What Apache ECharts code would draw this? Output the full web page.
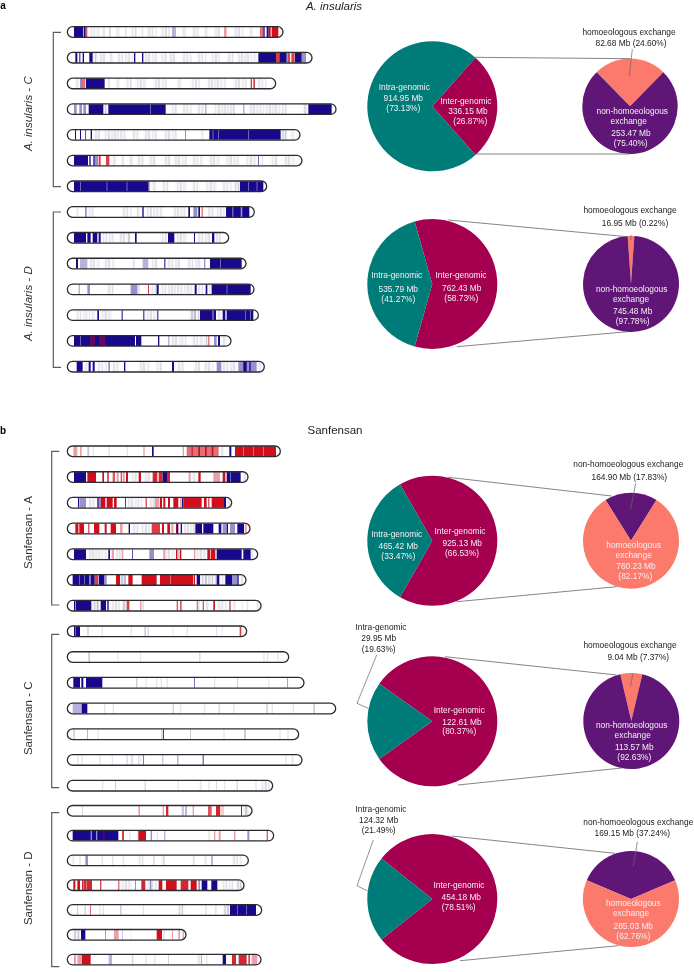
<!DOCTYPE html>
<html><head><meta charset="utf-8">
<style>html,body{margin:0;padding:0;background:#fff}#c{width:694px;height:972px}</style>
<script src="https://cdn.jsdelivr.net/npm/echarts@6/dist/echarts.min.js"></script></head>
<body><div id="c"></div>
<script>
// band levels: positive = non-homoeologous (blue), negative = homoeologous (red), 0 = gap
const B=1,M=.45,P=.13,R=-1,K=-.4,W=0;
const chromNames=['1','2','3','4','5','6','7'];
// chromosome ends, position units
const insC_ends=[849,936,827,1008,900,906,800];
const insD_ends=[763,686,738,762,775,693,793];
const sanA_ends=[841,744,695,750,773,738,783];
const sanC_ends=[740,866,912,1007,896,906,818];
const sanD_ends=[756,821,745,732,785,558,783];
// [start,end,level] per chromosome
const insC_bands=[
[[222,250,B],[252,256,B],[255,262,R*.7],[268,300,P],[305,315,P],[328,332,P*2],[345,360,P],[375,380,P],[390,410,P],[420,430,P],[440,470,P],[480,510,P],[516,528,M*.7],[545,560,P],[575,600,P],[610,625,P],[640,660,P],[672,680,K],[700,730,P],[745,760,P],[780,790,K*1.5],[790,794,B],[800,806,B],[806,812,R],[815,835,R]],
[[226,232,B],[238,241,B],[248,252,B],[268,278,B],[280,292,P*2],[295,320,P],[325,340,P],[350,400,P],[402,406,B],[426,430,B],[430,470,P],[480,500,P],[505,530,P],[545,575,P],[590,620,P],[630,660,P],[680,700,P],[710,770,P],[775,828,B],[828,838,R*.8],[838,860,B],[862,870,R*.8],[874,884,R*.8],[885,905,B],[905,918,M]],
[[225,238,P],[240,245,M],[244,256,R*.6],[258,314,B],[320,330,P],[345,360,P],[375,395,P],[405,440,P],[460,500,P],[530,545,P],[570,600,P],[620,680,P],[700,740,P],[752,756,R*.8],[760,765,R*.8],[770,800,P]],
[[222,230,M],[238,246,M],[250,258,M],[266,310,B],[310,322,P*2],[325,497,B],[450,452,W],[510,530,P],[545,575,P],[590,610,P],[616,619,M],[640,705,P],[730,733,M],[745,860,P],[908,922,P*1.5],[925,995,B]],
[[225,228,B],[240,243,B],[256,258,B],[272,276,B],[280,300,P],[310,380,P],[395,420,P],[430,470,P],[490,530,P],[555,558,M],[600,610,P],[628,842,B],[638,640,W],[655,657,W],[745,747,W],[842,860,P*1.5],[870,885,P]],
[[222,264,B],[268,272,B],[280,284,B],[284,294,M],[296,302,R*.8],[318,328,R*.8],[335,350,P],[365,372,P],[385,400,P],[410,430,P],[445,470,P],[490,510,P],[520,560,P],[575,610,P],[625,660,P],[675,720,P],[735,770,P],[774,777,M*1.4],[780,790,P],[810,835,P],[850,885,P]],
[[222,448,B],[240,242,W],[320,322,W],[380,382,W],[444,446,W],[455,470,P],[485,510,P],[525,560,P],[575,600,P],[615,650,P],[665,695,P],[700,718,P*1.5],[720,790,B],[745,747,W],[770,772,W]]
];
const insD_bands=[
[[225,235,P],[255,260,M],[262,280,P],[365,395,P],[410,418,P],[427,431,B],[435,490,P],[518,560,P],[565,570,B],[580,592,M],[595,600,B],[605,608,R*.8],[620,640,P],[645,675,P],[678,748,B],[697,700,W],[722,727,W]],
[[222,258,B],[262,272,B],[278,292,B],[296,302,B],[303,345,P],[355,375,P],[380,390,P*2],[405,410,B],[480,500,P],[504,523,B],[525,560,P],[582,585,B],[590,630,P],[636,643,B],[645,662,P]],
[[228,234,B],[240,262,M*.7],[265,300,P],[310,345,P],[395,405,P],[428,445,M*.7],[450,475,P],[493,496,B],[500,540,P],[560,605,P],[612,616,M],[630,725,B],[660,662,W]],
[[236,239,M],[262,270,M],[320,340,P],[392,412,M],[412,420,P],[444,447,R*.8],[450,470,P],[470,476,B],[480,580,P],[584,590,B],[590,615,P],[617,622,B],[622,634,P],[635,752,B],[680,682,W]],
[[225,285,P],[292,297,B],[300,335,P],[365,368,B],[430,433,B],[435,470,P],[472,475,B],[568,598,M*.6],[600,638,B],[640,648,B],[650,665,P],[668,676,B],[680,760,B],[735,737,W],[750,752,W]],
[[222,405,B],[270,285,K],[298,316,K],[240,242,W],[408,424,B],[474,478,B],[505,508,M],[512,560,P],[575,610,P],[612,622,M*.6],[625,628,R*.8],[642,650,M],[654,660,B],[665,680,P]],
[[230,248,B],[252,264,P],[266,272,B],[278,284,B],[290,320,P],[325,330,M],[335,360,P],[372,376,B],[415,450,P],[465,485,P],[516,522,B],[530,550,P],[580,600,P],[610,640,P],[650,664,M],[665,710,P],[715,770,M],[730,740,B],[748,752,B],[770,782,P]]
];
const sanA_bands=[
[[220,232,K],[240,245,K],[262,268,P*2],[278,282,P],[325,330,P],[380,384,P],[430,434,K],[456,461,B],[548,552,K],[560,656,K*1.5],[575,578,R],[595,600,R],[615,620,R],[635,640,R],[660,672,P],[688,694,B],[705,828,R],[730,732,W],[760,762,W],[790,792,W]],
[[222,258,B],[262,288,R],[307,312,R],[322,326,R],[338,345,R*.7],[350,356,K],[362,366,R*.7],[368,374,K],[378,384,R],[390,410,P],[416,423,R],[430,450,P],[458,472,R*.9],[476,488,R*.9],[488,503,B],[503,510,R*.9],[566,572,K],[575,590,P],[595,602,R],[640,660,K],[668,676,R],[680,722,B],[690,692,W],[730,738,P]],
[[234,237,B],[238,258,M],[262,288,P],[292,296,B],[296,302,M],[302,316,R],[320,338,R],[342,350,R],[375,378,R],[380,432,P],[437,440,R],[445,465,P],[465,478,K],[480,486,R],[490,496,R],[504,510,R],[520,535,R],[540,545,K],[546,550,B],[550,605,R],[612,620,R],[625,628,R],[635,672,R],[672,678,B],[680,690,P]],
[[226,234,R],[234,238,K],[238,252,R],[265,268,R],[282,298,R],[314,320,R],[332,348,R],[360,368,K],[386,390,B],[395,415,P],[420,450,P],[455,480,R*.8],[486,492,R],[502,510,R],[514,520,K],[528,533,R],[530,535,B],[542,546,B],[548,585,P],[586,606,B],[610,640,B],[656,664,B],[668,680,M],[680,684,B],[690,705,M],[712,732,B],[734,740,K]],
[[222,258,B],[262,320,P],[325,330,B],[335,342,K],[345,362,P],[365,370,K],[396,399,M*1.5],[448,462,M],[490,495,K],[490,525,P],[528,532,R],[532,540,P*2],[540,544,R],[582,586,K],[585,620,P],[622,630,R],[632,646,R],[650,725,B],[730,752,B],[754,760,P]],
[[218,268,B],[238,240,W],[252,254,W],[268,272,M],[272,284,B],[284,294,R*.8],[296,312,B],[312,320,M],[348,360,R],[360,378,M*.6],[385,398,R],[425,470,R],[474,478,W],[480,580,R],[510,512,W],[582,585,R],[590,600,B],[600,650,M*.5],[650,658,B],[660,675,P],[676,696,B],[696,712,M],[712,716,B],[722,730,P]],
[[222,232,P*2],[222,274,B],[225,228,W],[276,296,M*.6],[302,318,B],[322,326,B],[330,360,P],[365,378,M*.6],[380,388,R*.8],[420,424,K],[425,432,P],[530,534,R*.7],[540,545,R*.7],[590,594,M],[590,600,P],[608,612,R*.7],[618,625,P],[640,645,R],[650,680,P],[688,692,R*.8],[700,706,P],[725,728,P],[740,745,P],[770,776,P]]
];
const sanC_bands=[
[[222,240,B],[226,228,W],[262,266,P*2],[305,309,P],[392,396,P],[433,438,P*2],[443,446,M*.6],[517,520,P],[560,564,P],[648,652,P],[665,668,P],[719,724,R*.8]],
[[265,270,P*2],[352,355,P],[420,423,P],[598,601,P*2],[790,794,P],[800,805,P],[832,836,P]],
[[220,240,B],[244,250,B],[258,307,B],[408,412,P*2],[436,440,P],[468,472,P],[482,486,P],[500,504,P],[582,584,B*.8],[642,646,P],[712,714,K],[805,808,P],[862,864,R*.7]],
[[218,245,M*.7],[245,262,B],[312,316,P],[338,342,P],[518,522,M*.5],[540,544,P],[612,616,P],[656,659,M*.6],[700,704,P],[800,802,M],[815,819,P],[878,882,P],[940,945,P*2]],
[[221,223,M],[262,264,M],[292,296,P],[484,488,M*.6],[489,492,B*.8],[570,573,M*.6],[670,674,P],[732,738,M*.6],[838,842,P],[862,866,P]],
[[232,236,P],[244,248,P],[298,302,P],[335,339,P],[378,384,P],[392,400,P],[410,425,P],[430,432,B*.8],[486,490,P*2],[532,535,M],[608,611,B*.8],[856,860,P],[875,880,P]],
[[306,310,P],[346,348,M*.7],[434,437,M*.6],[532,536,P],[595,605,P],[625,629,P],[648,651,M*.4],[672,676,P],[710,713,M*.6],[766,770,P],[780,810,P]]
];
const sanD_bands=[
[[246,248,M*.6],[415,420,K],[488,492,K],[498,505,R*.9],[545,552,P*2],[556,560,M],[578,582,K],[624,635,R*.7],[648,660,R*.9],[660,672,K*.5],[723,726,B*.8],[730,745,P*2]],
[[218,355,B],[272,276,W],[288,292,W],[310,314,K],[366,372,R*.8],[388,392,P],[412,415,P],[415,438,R],[452,456,M],[470,474,P],[492,496,M*.7],[625,630,P],[642,646,K],[656,662,K],[703,706,K*1.5],[742,748,M],[800,804,R*.7]],
[[218,222,P],[238,242,P],[256,264,M],[305,309,P],[336,340,P],[368,372,P],[412,430,P],[460,464,K*.6],[484,494,P*1.5],[575,585,P],[610,620,P],[634,638,M],[695,725,P]],
[[220,226,R],[232,240,R],[246,276,R*.9],[250,252,W],[258,260,W],[300,304,R*.8],[355,358,R*.8],[360,395,P],[405,408,M],[424,436,R*.9],[440,470,P],[450,454,M],[476,487,R],[498,530,R],[542,565,R*.9],[572,590,R],[595,600,M],[605,622,B],[634,652,B],[664,700,P],[708,725,P*1.5]],
[[232,234,M*.7],[254,258,M*.5],[270,273,K*1.5],[298,302,P],[308,312,P],[361,364,M*.7],[428,432,P],[532,555,P*1.5],[615,620,P],[645,650,P],[668,690,P*1.5],[690,768,B],[712,714,W],[738,740,W]],
[[218,238,M*.5],[243,256,B],[315,317,R*.7],[342,356,K],[366,368,M*.7],[392,394,P],[470,486,R],[490,495,P],[516,519,K],[535,540,K],[548,552,K]],
[[222,228,K],[232,246,K],[246,272,R],[326,336,M*.7],[396,400,K*.6],[436,440,P],[462,466,P],[504,507,K*.6],[590,605,P],[604,606,M],[618,622,P],[668,678,B],[696,708,R*.9],[716,740,R*.9],[745,750,R*.8],[755,772,K]]
];
// pies: values, Mb
const insC_split=[336.15,914.95];
const insC_exch=[82.68,253.47];
const insD_split=[762.43,535.79];
const insD_exch=[16.95,745.48];
const sanA_split=[925.13,465.42];
const sanA_exch=[164.90,760.23];
const sanC_split=[122.61,29.95];
const sanC_exch=[9.04,113.57];
const sanD_split=[454.18,124.32];
const sanD_exch=[169.15,285.03];

// ---------- layout and style ----------
const FONT='"Liberation Sans",Arial,sans-serif';
const C={teal:'#007c78',crim:'#a5004f',purp:'#5f1676',salm:'#fb7a6c',ink:'#222',white:'#f4eef2'};
const groups=[
 {ends:insC_ends,bands:insC_bands,first:32,last:186.3},
 {ends:insD_ends,bands:insD_bands,first:212,last:366.7},
 {ends:sanA_ends,bands:sanA_bands,first:451.3,last:605.7},
 {ends:sanC_ends,bands:sanC_bands,first:631.3,last:785.7},
 {ends:sanD_ends,bands:sanD_bands,first:811.3,last:966}
];
const grids=[],xAxes=[],yAxes=[],series=[];
// fill texture for the palest bands: fine light stripes, as in the source's dense low-level tracks
const paleStripes=[.04,.15,.07,.19,.03,.12,.08,.17,.05,.13];
function levelFill(l,wpx){
  if(l===0) return 'rgba(255,255,255,.55)';
  if(l>0&&l<=.27&&wpx>3){
    const n=Math.max(2,Math.round(wpx/1.6)),colorStops=[];
    const k=l/.13;
    for(let i=0;i<n;i++){
      const a=Math.min(.4,paleStripes[i%paleStripes.length]*k);
      const c=`rgba(95,90,135,${a})`;
      colorStops.push({offset:i/n,color:c},{offset:(i+1)/n,color:c});
    }
    return new echarts.graphic.LinearGradient(0,0,1,0,colorStops);
  }
  if(l>0&&l<=.27) return `rgba(95,90,135,${l*1.2})`;
  return l>0?`rgba(24,8,140,${l})`:`rgba(208,14,28,${-l})`;
}
groups.forEach((g,i)=>{
  const s=(g.last-g.first)/6;
  grids.push({left:67.33,width:270,top:g.first-s/2,height:s*7});
  xAxes.push({type:'value',gridIndex:i,min:202,max:1012,show:false});
  yAxes.push({type:'category',gridIndex:i,inverse:true,data:chromNames,show:false});
  const rows=[];
  g.bands.forEach((list,c)=>list.forEach(b=>rows.push([b[0],c,b[1],b[2]])));
  series.push({type:'custom',xAxisIndex:i,yAxisIndex:i,silent:true,clip:false,z:2,
    encode:{x:[0,2],y:1},data:rows,
    renderItem(p,api){
      const a=api.coord([api.value(0),api.value(1)]),b=api.coord([api.value(2),api.value(1)]);
      const wpx=Math.max(b[0]-a[0],.7);
      return {type:'rect',shape:{x:a[0],y:a[1]-5,width:wpx,height:10},
        style:{fill:levelFill(api.value(3),wpx)}};
    }});
  series.push({type:'custom',xAxisIndex:i,yAxisIndex:i,silent:true,clip:false,z:3,
    encode:{x:[0,2],y:1},data:g.ends.map((e,c)=>[202,c,e]),
    renderItem(p,api){
      const a=api.coord([api.value(0),api.value(1)]),b=api.coord([api.value(2),api.value(1)]);
      return {type:'rect',shape:{x:a[0],y:a[1]-5.3,width:b[0]-a[0],height:10.6,r:5.3},
        style:{fill:'none',stroke:'#2a2a30',lineWidth:1.3}};
    }});
});
function pie(center,r,vals,cols,startAngle){
  series.push({type:'pie',center,radius:[0,r],startAngle,clockwise:true,silent:true,z:2,
    label:{show:false},labelLine:{show:false},
    itemStyle:{borderWidth:0},
    data:vals.map((v,i)=>({value:v,itemStyle:{color:cols[i]}}))});
}
const frac=(v)=>v[0]/(v[0]+v[1]);
const splitCols=[C.crim,C.teal], exCols=[C.salm,C.purp], exCols2=[C.purp,C.salm];
pie([432.3,106.3],65,insC_split,splitCols,frac(insC_split)*180);
pie([630,106.3],47.7,insC_exch,exCols,90+frac(insC_exch)*180);
pie([432.3,284],65,insD_split,splitCols,frac(insD_split)*180);
pie([631,284],48,insD_exch,exCols,90+frac(insD_exch)*180);
pie([432.3,540.7],65,sanA_split,splitCols,frac(sanA_split)*180);
pie([631,540.7],48,sanA_exch,exCols2,90+frac(sanA_exch)*180);
pie([432.3,721.3],65,sanC_split,splitCols,frac(sanC_split)*180);
pie([631.3,721],48,sanC_exch,exCols,90+frac(sanC_exch)*180);
pie([432.3,899],65,sanD_split,splitCols,frac(sanD_split)*180);
pie([631,899],48,sanD_exch,exCols2,90+frac(sanD_exch)*180);

const gfx=[];
function line(pts,color,w){gfx.push({type:'polyline',z:5,silent:true,shape:{points:pts},style:{stroke:color,lineWidth:w,fill:'none'}});}
// connectors between pies
[[[474,57.3],[630,58.7]],[[475.7,154],[630,154]],
 [[448.3,220],[626.7,236.7]],[[456.7,346.7],[628,331.7]],
 [[448.3,477.3],[611.7,496]],[[456.7,601.7],[616.7,586.7]],
 [[445,656.7],[616.7,675]],[[458,785],[621.7,768]],
 [[451.7,836],[615,853.3]],[[460,960.7],[618.3,945.7]]].forEach(l=>line(l,'#77777a',.9));
// leaders
[[[629.3,76],[632.3,49.3]],[[631,240],[631,235]],[[630.7,509],[635.7,483.3]],[[630.3,686.7],[633,673.3]],[[633.3,866.7],[637.3,841.7]],
 [[376.7,655],[357,703.3],[368.3,708.3]],[[373.3,840],[357,885.7],[367.7,891]]].forEach(l=>line(l,'#66666a',.7));
// brackets
[[53.3,61,32.3,186.7],[53.3,61,212,367.3],[51.7,59.3,451.3,605],[51.7,59.3,634.3,787.7],[51.7,59.3,812.7,966.7]]
 .forEach(b=>line([[b[1],b[2]],[b[0],b[2]],[b[0],b[3]],[b[1],b[3]]],'#5c5c5c',1.2));

function txt(s,x,y,fill,extra){gfx.push({type:'text',z:6,silent:true,x,y,style:Object.assign({text:s,fill,font:'8.35px '+FONT,textAlign:'center',textVerticalAlign:'middle'},extra||{})});}
const dark='#1c1c1c',w=C.white;
[
 ['homoeologous exchange',629,32.3,dark],['82.68 Mb (24.60%)',631,43.3,dark],
 ['Intra-genomic',404.3,87.3,w],['914.95 Mb',403.3,99,w],['(73.13%)',403.3,109,w],
 ['Inter-genomic',466,101.7,w],['336.15 Mb',468,112,w],['(26.87%)',470.3,122,w],
 ['non-homoeologous',632.3,111.7,w],['exchange',628.7,122,w],['253.47 Mb',631,134,w],['(75.40%)',630.7,144,w],

 ['homoeologous exchange',630,211,dark],['16.95 Mb (0.22%)',635,223.7,dark],
 ['Intra-genomic',396.7,275.7,w],['535.79 Mb',398.3,289.3,w],['(41.27%)',398.3,299.3,w],
 ['Inter-genomic',461,275.7,w],['762.43 Mb',461.7,289,w],['(58.73%)',461.3,299,w],
 ['non-homoeologous',631.7,289.3,w],['exchange',631,299.7,w],['745.48 Mb',632.7,312,w],['(97.78%)',632.7,322,w],

 ['non-homoeologous exchange',628.3,464.3,dark],['164.90 Mb (17.83%)',629.3,477.3,dark],
 ['Intra-genomic',396.7,534.3,w],['465.42 Mb',398.3,546.7,w],['(33.47%)',398.3,556.3,w],
 ['Inter-genomic',460,532,w],['925.13 Mb',462.3,544,w],['(66.53%)',462,554,w],
 ['homoeologous',633.7,545.3,w],['exchange',633.7,555.3,w],['760.23 Mb',636,566.7,w],['(82.17%)',635.3,576.7,w],

 ['Intra-genomic',381,627.7,dark],['29.95 Mb',378.7,638.7,dark],['(19.63%)',378.7,649.3,dark],
 ['Inter-genomic',459.3,710.7,w],['122.61 Mb',462,722.3,w],['(80.37%)',459.3,732,w],
 ['homoeologous exchange',630,646,dark],['9.04 Mb (7.37%)',638.3,657.7,dark],
 ['non-homoeologous',631.7,726,w],['exchange',632.7,736,w],['113.57 Mb',634.3,748,w],['(92.63%)',634.3,757.7,w],

 ['Intra-genomic',381,809.3,dark],['124.32 Mb',378.7,821,dark],['(21.49%)',378.7,831,dark],
 ['Inter-genomic',459,885.7,w],['454.18 Mb',461.3,897.3,w],['(78.51%)',458.7,907.7,w],
 ['non-homoeologous exchange',638.3,823,dark],['169.15 Mb (37.24%)',632.3,833.7,dark],
 ['homoeologous',633.3,904,w],['exchange',631,914,w],['285.03 Mb',633.3,927,w],['(62.76%)',633.3,937,w]
].forEach(t=>txt(t[0],t[1],t[2],t[3]));
// panel letters and titles
txt('a',3,6,'#000',{font:'bold 10px '+FONT});
txt('b',3,431,'#000',{font:'bold 10px '+FONT});
txt('A. insularis',334,7,'#222',{font:'italic 11.5px '+FONT});
txt('Sanfensan',335,431,'#222',{font:'11.5px '+FONT});
// side labels
[['A. insularis - C',28.5,113.7,'italic '],['A. insularis - D',28.5,303.7,'italic '],
 ['Sanfensan - A',28.5,532.5,''],['Sanfensan - C',28.5,718.3,''],['Sanfensan - D',28.5,888.3,'']]
 .forEach(t=>{gfx.push({type:'text',z:6,silent:true,x:t[1],y:t[2],rotation:Math.PI/2,
   style:{text:t[0],fill:'#333',font:t[3]+'11.5px '+FONT,textAlign:'center',textVerticalAlign:'middle'}});});

const chart=echarts.init(document.getElementById('c'));
chart.setOption({animation:false,backgroundColor:'#fff',grid:grids,xAxis:xAxes,yAxis:yAxes,series,graphic:gfx});
</script></body></html>
